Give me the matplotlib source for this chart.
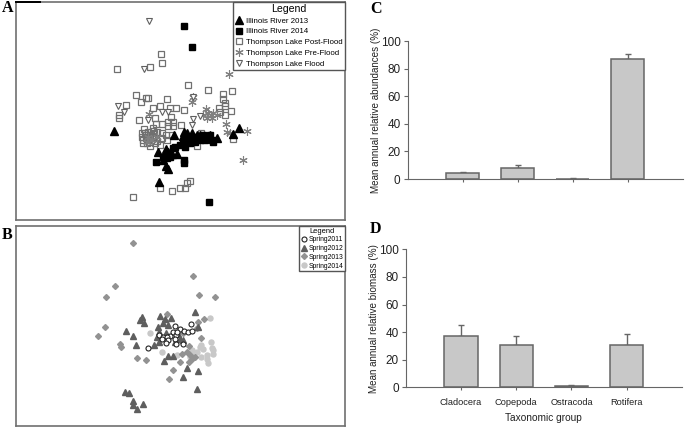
import numpy as np
import matplotlib
matplotlib.use('Agg')
import matplotlib.pyplot as plt

plt.rcParams['font.family'] = ['Liberation Sans', 'DejaVu Sans']

W, H = 685, 428

#-------------------panel A, ordination scores--------------
river13_x = [342, 476, 716, 700, 523, 552, 560, 575, 590, 652, 473, 497, 505, 515, 532, 490, 498, 505, 550, 580, 560, 600, 630]
river13_y = [392, 546, 383, 403, 405, 395, 400, 398, 405, 413, 456, 446, 455, 462, 462, 480, 497, 508, 408, 415, 420, 405, 405]
river14_x = [552, 575, 627, 468, 553, 553, 490, 510, 525, 540, 555, 570, 585, 600, 615, 635, 630, 610, 580, 560, 500, 520, 550, 640]
river14_y = [77, 141, 607, 485, 480, 488, 470, 470, 440, 435, 440, 430, 425, 420, 420, 420, 405, 405, 410, 410, 475, 445, 425, 425]
post_x = [483, 486, 351, 451, 563, 623, 697, 668, 670, 675, 409, 423, 437, 445, 500, 479, 459, 510, 528, 553, 379, 357, 357, 418,
          464, 513, 468, 487, 505, 518, 505, 518, 543, 657, 692, 675, 660, 675, 433, 460, 445, 425, 425, 437, 450, 462, 470, 487,
          497, 485, 460, 445, 430, 440, 450, 465, 480, 500, 515, 602, 590, 700, 480, 516, 541, 555, 560, 571, 399,
          435, 442, 455, 428, 448, 438, 458, 470]
post_y = [161, 187, 205, 200, 254, 269, 272, 282, 295, 307, 285, 305, 294, 294, 297, 316, 324, 323, 323, 329, 314, 345, 355, 361,
          353, 350, 372, 372, 365, 365, 378, 378, 375, 322, 332, 345, 335, 318, 388, 383, 395, 400, 412, 405, 405, 400, 395, 400,
          405, 415, 415, 420, 420, 430, 438, 430, 435, 420, 405, 400, 438, 418, 565, 572, 563, 563, 550, 542, 591,
          398, 412, 408, 428, 425, 415, 392, 422]
pre_x = [687, 580, 575, 447, 618, 625, 632, 640, 610, 620, 635, 650, 677, 680, 690, 740, 730, 445, 455, 440, 470]
pre_y = [221, 290, 305, 343, 327, 340, 345, 340, 345, 355, 355, 345, 372, 397, 400, 394, 479, 410, 420, 425, 410]
flood_x = [448, 433, 353, 371, 578, 485, 505, 443, 580, 577, 600]
flood_y = [62, 205, 317, 337, 289, 337, 337, 360, 357, 376, 347]

#-------------------panel B, ordination scores--------------
s11_x = [574, 526, 541, 552, 565, 575, 520, 478, 490, 510, 528, 500, 487, 505, 525, 498, 528, 550, 445, 530]
s11_y = [311, 318, 325, 332, 335, 331, 335, 343, 350, 347, 345, 350, 357, 360, 355, 368, 372, 370, 384, 335]
s12_x = [427, 421, 433, 481, 496, 514, 489, 503, 475, 377, 400, 407, 470, 478, 462, 478, 498, 584, 593, 535, 540, 548, 525, 505,
         520, 493, 560, 595, 549, 592, 376, 386, 399, 399, 428, 412]
s12_y = [290, 299, 310, 289, 297, 293, 310, 314, 320, 333, 348, 374, 350, 335, 373, 365, 338, 276, 320, 340, 355, 360, 365, 408,
         408, 422, 443, 451, 470, 505, 515, 519, 541, 555, 551, 567]
s13_x = [399, 580, 344, 317, 597, 644, 502, 611, 595, 316, 294, 359, 363, 604, 566, 410, 438, 547, 560, 541, 518, 507, 570, 575,
         568, 585, 550, 592]
s13_y = [70, 167, 199, 232, 226, 232, 282, 298, 306, 319, 346, 371, 379, 352, 378, 414, 418, 400, 395, 425, 448, 477, 405, 415,
         425, 410, 338, 322]
s14_x = [631, 449, 633, 604, 610, 635, 640, 638, 620, 622, 624, 604, 575, 578, 590, 487, 530, 570, 600]
s14_y = [293, 339, 364, 375, 385, 383, 390, 400, 405, 415, 427, 410, 390, 400, 395, 395, 405, 410, 380]

#-------------------panels C and D--------------
groups = ['Cladocera', 'Copepoda', 'Ostracoda', 'Rotifera']
abund = [4, 8, 0.2, 87.5]
abund_err = [1.3, 2.5, 0.2, 3.3]
biomass = [37.5, 30.5, 1.2, 31]
biomass_err = [8, 7, 0.7, 7.5]


def px_axes(fig, x0, y0, x1, y1):
    # pixel box, y measured from the top of the image
    return fig.add_axes([x0 / W, 1 - y1 / H, (x1 - x0) / W, (y1 - y0) / H])


def scatter_frame(ax, ylim):
    ax.set_xlim(48, 1035)
    ax.set_ylim(*ylim)
    ax.set_xticks([])
    ax.set_yticks([])
    for s in ax.spines.values():
        s.set_color('#707070')
        s.set_linewidth(1.2)


def bar_panel(ax, vals, errs, ylabel):
    pos = np.arange(1, 5)
    ax.bar(pos, vals, width=0.6, color='#c8c8c8', edgecolor='#666666', linewidth=1.1, zorder=2)
    ax.errorbar(pos, vals, yerr=[np.zeros(4), errs], fmt='none', ecolor='#666666',
                elinewidth=1, capsize=2.5, capthick=1, zorder=1)
    ax.set_xlim(0, 5)
    ax.set_ylim(0, 100)
    ax.set_yticks(range(0, 101, 20))
    ax.set_xticks(pos)
    ax.tick_params(axis='y', labelsize=8.5, length=3, color='#666666', pad=2, labelcolor='#222222')
    ax.tick_params(axis='x', length=2, color='#666666', labelsize=6.7, labelcolor='#222222', pad=6)
    ax.set_ylabel(ylabel, fontsize=7.1, color='#222222', labelpad=0)
    ax.spines['top'].set_visible(False)
    ax.spines['right'].set_visible(False)
    ax.spines['left'].set_color('#666666')
    ax.spines['bottom'].set_color('#666666')


fig = plt.figure(figsize=(W / 100, H / 100), dpi=100)

axA = px_axes(fig, 16, 2, 345, 220)
scatter_frame(axA, (660, 5))
axA.plot([48, 120], [5, 5], color='black', lw=1.4, clip_on=False, zorder=5)
axA.plot(post_x, post_y, 's', mfc='none', mec='#707070', mew=0.9, ms=4.2, ls='none', label='Thompson Lake Post-Flood', zorder=2)
axA.plot(pre_x, pre_y, marker=(6, 2, 0), color='#808080', mew=0.8, ms=6, ls='none', label='Thompson Lake Pre-Flood', zorder=3)
axA.plot(flood_x, flood_y, 'v', mfc='white', mec='#606060', mew=0.8, ms=4.8, ls='none', label='Thompson Lake Flood', zorder=3)
axA.plot(river14_x, river14_y, 's', color='black', ms=5, ls='none', label='Illinois River 2014', zorder=4)
axA.plot(river13_x, river13_y, '^', color='black', ms=5.6, ls='none', label='Illinois River 2013', zorder=4)
h, l = axA.get_legend_handles_labels()
order = [4, 3, 0, 1, 2]
legA = axA.legend([h[i] for i in order], [l[i] for i in order], title='Legend', fontsize=5.7,
                  loc='upper right', bbox_to_anchor=(1.0, 1.0), borderaxespad=0, fancybox=False,
                  edgecolor='#555555', framealpha=1, handletextpad=0.3, labelspacing=0.4,
                  borderpad=0.25, handlelength=1.2, title_fontsize=7.6)
legA.get_frame().set_linewidth(1)

axB = px_axes(fig, 16, 226, 345, 426)
scatter_frame(axB, (617, 18))
axB.plot(s14_x, s14_y, 'o', color='#c8c8c8', ms=3.6, ls='none', label='Spring2014', zorder=2)
axB.plot(s13_x, s13_y, 'D', color='#929292', ms=3, ls='none', label='Spring2013', zorder=3)
axB.plot(s12_x, s12_y, '^', color='#5e5e5e', ms=3.8, ls='none', label='Spring2012', zorder=4)
axB.plot(s11_x, s11_y, 'o', mfc='white', mec='#222222', mew=0.8, ms=3.6, ls='none', label='Spring2011', zorder=5)
h, l = axB.get_legend_handles_labels()
legB = axB.legend(h[::-1], l[::-1], title='Legend', fontsize=4.9, loc='upper right',
                  bbox_to_anchor=(1.0, 1.0), borderaxespad=0, fancybox=False, edgecolor='#555555',
                  framealpha=1, handletextpad=0.2, labelspacing=0.25, borderpad=0.25,
                  handlelength=1.0, title_fontsize=5.4)
legB.get_frame().set_linewidth(1)

axC = px_axes(fig, 407.5, 41.3, 683, 179)
bar_panel(axC, abund, abund_err, 'Mean annual relative abundances (%)')
axC.set_xticklabels([])

axD = px_axes(fig, 405.7, 249.3, 682, 387.3)
bar_panel(axD, biomass, biomass_err, 'Mean annual relative biomass (%)')
axD.set_xticklabels(groups)
axD.set_xlabel('Taxonomic group', fontsize=7.3, color='#222222', labelpad=4)

# panel letters
for letter, x, y in [('A', 2, 8), ('B', 2, 235), ('C', 370, 9), ('D', 370, 229)]:
    fig.text(x / W, 1 - y / H, letter, family='Liberation Serif', weight='bold',
             fontsize=11.5, ha='left', va='center')

fig.savefig('out.png', dpi=100)
